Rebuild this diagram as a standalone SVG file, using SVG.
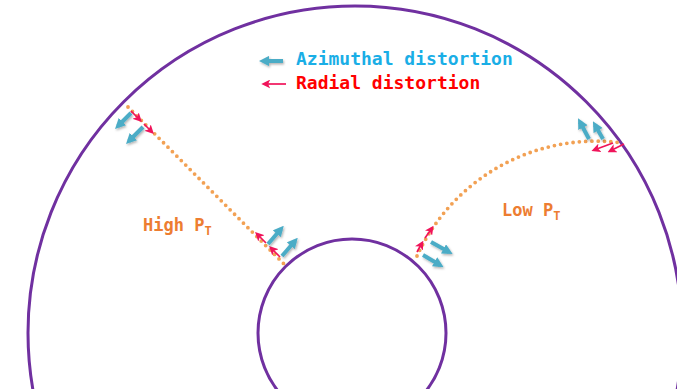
<svg xmlns="http://www.w3.org/2000/svg" width="677" height="389" viewBox="0 0 677 389">
<style>
.ring{fill:none;stroke:#7030A0;stroke-width:3}
.track{fill:none;stroke:#F2A154;stroke-width:3.8;stroke-linecap:round;stroke-dasharray:0 6.3}
.az{stroke:#4BACC6;stroke-width:4;fill:none;marker-end:url(#mb);filter:url(#sh)}
.rad{stroke:#F0145A;stroke-width:1.7;fill:none;marker-end:url(#mr)}
.lbl{font-family:"DejaVu Sans Mono","Liberation Mono",monospace;font-weight:bold}
</style>
<defs>
<filter id="sh" filterUnits="userSpaceOnUse" x="0" y="0" width="677" height="389">
<feDropShadow dx="1" dy="1.5" stdDeviation="1" flood-color="#000" flood-opacity="0.3"/>
</filter>
<marker id="mb" markerUnits="userSpaceOnUse" viewBox="0 0 10 10" refX="6" refY="5" markerWidth="10.5" markerHeight="10.5" orient="auto">
<path d="M0,0 L10,5 L0,10 z" fill="#4BACC6"/>
</marker>
<marker id="mr" markerUnits="userSpaceOnUse" viewBox="0 0 10 10" refX="7" refY="5" markerWidth="9" markerHeight="9" orient="auto">
<path d="M0,0 L10,5 L0,10 L2.5,5 z" fill="#F0145A"/>
</marker>
</defs>
<g id="outer-ring"><circle class="ring" cx="355" cy="333" r="327"/></g>
<g id="inner-ring"><circle class="ring" cx="352" cy="333" r="94"/></g>
<g id="legend">
<line class="az" x1="283" y1="61" x2="263" y2="61"/>
<text class="lbl" x="296" y="65" font-size="18" fill="#1AAEE6">Azimuthal distortion</text>
<line class="rad" x1="286" y1="84" x2="264" y2="84"/>
<text class="lbl" x="296" y="89" font-size="18" fill="#FF0000">Radial distortion</text>
</g>
<g id="high-pt">
<line class="track" x1="128" y1="107" x2="287" y2="267"/>
<text class="lbl" x="143" y="231" font-size="17" fill="#ED7D31">High P<tspan font-size="12" dy="4">T</tspan></text>
</g>
<g id="low-pt">
<path class="track" d="M417,256 A197,197 0 0 1 623,143"/>
<text class="lbl" x="502" y="216" font-size="17" fill="#ED7D31">Low P<tspan font-size="12" dy="4">T</tspan></text>
</g>
<g id="connectors">
<line class="rad" x1="131" y1="111" x2="140" y2="120"/>
<line class="rad" x1="144" y1="124" x2="152" y2="132"/>
<line class="az" x1="131" y1="113" x2="118" y2="126"/>
<line class="az" x1="143" y1="127" x2="129" y2="141"/>
<line class="rad" x1="266" y1="243" x2="257" y2="234"/>
<line class="rad" x1="280" y1="257" x2="271" y2="248"/>
<line class="az" x1="268" y1="244" x2="281" y2="229"/>
<line class="az" x1="282" y1="256" x2="295" y2="241"/>
<line class="rad" x1="417" y1="252" x2="422" y2="243"/>
<line class="rad" x1="425" y1="238" x2="432" y2="228"/>
<line class="az" x1="431" y1="242" x2="449" y2="252"/>
<line class="az" x1="423" y1="255" x2="440" y2="265"/>
<line class="az" x1="589" y1="139" x2="580" y2="122"/>
<line class="az" x1="603" y1="139" x2="595" y2="125"/>
<line class="rad" x1="613" y1="143" x2="594" y2="150"/>
<line class="rad" x1="624" y1="144" x2="610" y2="151"/>
</g>
</svg>
